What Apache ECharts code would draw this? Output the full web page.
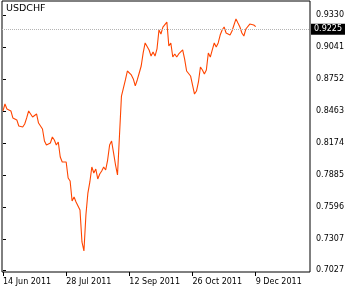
<!DOCTYPE html>
<html>
<head>
<meta charset="utf-8">
<script src="https://cdn.jsdelivr.net/npm/echarts@6/dist/echarts.min.js"></script>
<style>html,body{margin:0;padding:0;background:#fff;}#c{width:347px;height:289px;}</style>
</head>
<body>
<div id="c"></div>
<script>
var symbolName = 'USDCHF';
var lastPrice = 0.9225;
var closes = [
0.8463,0.8526,0.8481,0.8472,0.8463,0.8400,0.8391,0.8382,0.8327,0.8345,
0.8318,0.8345,0.8400,0.8463,0.8472,0.8409,0.8400,0.8436,0.8354,0.8345,
0.8300,0.8192,0.8156,0.8147,0.8174,0.8228,0.8201,0.8156,0.8183,0.8047,
0.8002,0.8011,0.8002,0.7858,0.7831,0.7650,0.7686,0.7641,0.7632,0.7569,
0.7280,0.7199,0.7524,0.7722,0.7822,0.7957,0.7903,0.7939,0.7849,0.7894,
0.7921,0.7957,0.7930,0.8020,0.8156,0.8192,0.8084,0.7975,0.7885,0.7867,
0.8598,0.8580,0.8743,0.8824,0.8806,0.8788,0.8752,0.8689,0.8743,0.8806,
0.8869,0.8987,0.9077,0.9059,0.9014,0.8959,0.8996,0.8959,0.9023,0.9194,
0.9158,0.9221,0.9212,0.9266,0.9050,0.9077,0.8950,0.8978,0.8950,0.8978,
0.8987,0.9014,0.8932,0.8824,0.8806,0.8779,0.8788,0.8616,0.8643,0.8725,
0.8860,0.8833,0.8797,0.8833,0.8987,0.8950,0.9014,0.9077,0.9041,0.9077,
0.9149,0.9194,0.9221,0.9167,0.9167,0.9149,0.9185,0.9203,0.9294,0.9257,
0.9221,0.9167,0.9140,0.9203,0.9212,0.9248,0.9239,0.9239,0.9225
];
var xTickIndex = [0, 32, 64, 96, 128];
var xTickLabels = ['14 Jun 2011', '28 Jul 2011', '12 Sep 2011', '26 Oct 2011', '9 Dec 2011'];
var yTickValues = [0.7027, 0.7307, 0.7596, 0.7885, 0.8174, 0.8463, 0.8752, 0.9041, 0.9330];

var seriesData = closes.map(function (v, i) { return [i, v]; });
var font = 'DejaVu Sans, Tahoma, sans-serif';

var chart = echarts.init(document.getElementById('c'), null, {renderer: 'canvas'});
chart.setOption({
  animation: false,
  backgroundColor: '#ffffff',
  title: {
    text: symbolName, left: 6, top: 4, padding: 0,
    textStyle: {fontSize: 9.5, fontWeight: 'normal', color: '#000', fontFamily: font}
  },
  grid: {left: 1, top: 1, width: 312, height: 271, show: true, borderColor: '#000', borderWidth: 1, backgroundColor: '#fff'},
  xAxis: {
    type: 'value', min: -0.5, max: 155.5,
    axisLine: {show: false},
    splitLine: {show: false},
    axisTick: {show: true, length: 4, customValues: xTickIndex, lineStyle: {color: '#000'}},
    axisLabel: {
      customValues: xTickIndex, align: 'left', margin: 6,
      color: '#000', fontSize: 8, fontFamily: font,
      formatter: function (v) { var k = xTickIndex.indexOf(Math.round(v)); return k >= 0 ? xTickLabels[k] : ''; }
    }
  },
  yAxis: {
    type: 'value', position: 'right', min: 0.70089, max: 0.94561,
    axisLine: {show: false},
    splitLine: {show: false},
    axisTick: {show: true, length: 3, customValues: yTickValues, lineStyle: {color: '#000'}},
    axisLabel: {
      customValues: yTickValues, margin: 6,
      color: '#000', fontSize: 8, fontFamily: font,
      formatter: function (v) { return v.toFixed(4); }
    }
  },
  series: [{
    type: 'line', data: seriesData, symbol: 'none',
    lineStyle: {color: '#ff4500', width: 1.1},
    markLine: {
      silent: true, symbol: 'none',
      lineStyle: {color: '#b4b4b4', type: 'dotted', width: 1},
      label: {
        show: true, position: 'end', distance: 1,
        backgroundColor: '#000', color: '#fff', fontSize: 8, fontFamily: font,
        padding: [2, 3, 1, 3],
        formatter: function () { return lastPrice.toFixed(4); }
      },
      data: [{yAxis: lastPrice}]
    }
  }]
});
</script>
</body>
</html>
